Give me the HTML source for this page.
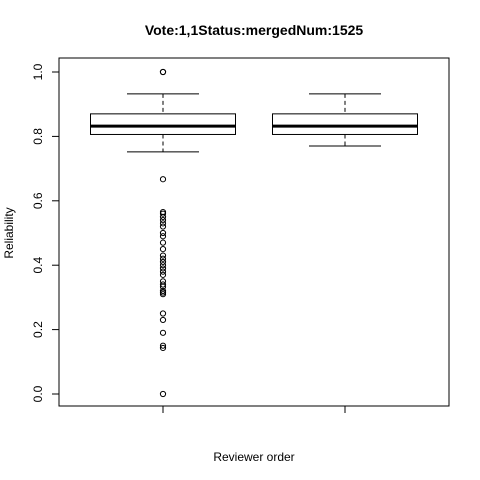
<!DOCTYPE html>
<html><head><meta charset="utf-8"><style>body{margin:0;background:#fff}svg{display:block}</style></head>
<body>
<svg id="chart" width="480" height="480" xmlns="http://www.w3.org/2000/svg" font-family="Liberation Sans, sans-serif">
<rect width="480" height="480" fill="#fff"/>
<text x="254" y="35" font-size="14" font-weight="bold" text-anchor="middle">Vote:1,1Status:mergedNum:1525</text>
<text x="254" y="461" font-size="12" text-anchor="middle">Reviewer order</text>
<text transform="translate(13,233) rotate(-90)" font-size="12" text-anchor="middle">Reliability</text>
<rect x="59" y="58" width="390" height="348" fill="none" stroke="#000"/>
<g id="g"></g>
</svg>
<script>
const categories = ["1", "2"];
const lowerWhisker = [0.752, 0.770];
const q1 = [0.806, 0.806];
const median = [0.832, 0.832];
const q3 = [0.870, 0.870];
const upperWhisker = [0.932, 0.932];
const outliers1 = [1.0, 1.0, 0.667, 0.565, 0.56, 0.55, 0.54, 0.53, 0.52, 0.50, 0.49, 0.47, 0.45, 0.43, 0.42, 0.41, 0.40, 0.39, 0.38, 0.37, 0.35, 0.34, 0.333, 0.32, 0.315, 0.31, 0.25, 0.23, 0.19, 0.15, 0.143, 0.0];
const outliers2 = [];
const yTicks = [0.0, 0.2, 0.4, 0.6, 0.8, 1.0];
const yTickLabels = ["0.0", "0.2", "0.4", "0.6", "0.8", "1.0"];

const NS = "http://www.w3.org/2000/svg";
const g = document.getElementById("g");
const y = v => 394 - v * 322;
const x = i => 163 + i * 182;
function mk(tag, attrs, parent) {
  const e = document.createElementNS(NS, tag);
  for (const k in attrs) e.setAttribute(k, attrs[k]);
  (parent || g).appendChild(e);
  return e;
}
// y axis
let ax = mk("line", {x1: 59, x2: 59, y1: y(0), y2: y(1), stroke: "#000"});


yTicks.forEach((t, i) => {
  let tk = mk("line", {x1: 52, x2: 59, y1: y(t), y2: y(t), stroke: "#000"});
  
  
  let tl = mk("text", {transform: `translate(42,${y(t)}) rotate(-90)`, "font-size": 12, "text-anchor": "middle"});
  tl.textContent = yTickLabels[i];
  
  
});
const allOut = [outliers1, outliers2];
categories.forEach((c, i) => {
  const cx = x(i), hw = 72.5;
  let xt = mk("line", {x1: cx, x2: cx, y1: 406, y2: 413, stroke: "#000"});
  
  
  const bg = mk("g", {});
  
  
  mk("line", {x1: cx, x2: cx, y1: y(upperWhisker[i]), y2: y(q3[i]), stroke: "#000", "stroke-dasharray": "4,3"}, bg);
  mk("line", {x1: cx, x2: cx, y1: y(q1[i]), y2: y(lowerWhisker[i]), stroke: "#000", "stroke-dasharray": "4,3"}, bg);
  mk("line", {x1: cx - 36, x2: cx + 36, y1: y(upperWhisker[i]), y2: y(upperWhisker[i]), stroke: "#000"}, bg);
  mk("line", {x1: cx - 36, x2: cx + 36, y1: y(lowerWhisker[i]), y2: y(lowerWhisker[i]), stroke: "#000"}, bg);
  mk("rect", {x: cx - hw, y: y(q3[i]), width: hw * 2, height: y(q1[i]) - y(q3[i]), fill: "none", stroke: "#000"}, bg);
  mk("line", {x1: cx - hw, x2: cx + hw, y1: y(median[i]), y2: y(median[i]), stroke: "#000", "stroke-width": 3}, bg);
  allOut[i].forEach(v => {
    let p = mk("circle", {cx: cx, cy: y(v), r: 2.6, fill: "none", stroke: "#000"});
    
    
  });
});
</script>
</body></html>
